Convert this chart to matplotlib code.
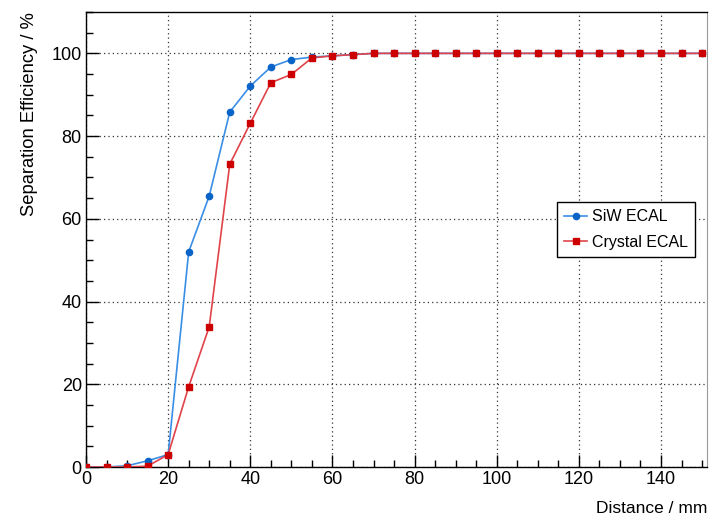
import numpy as np
import matplotlib.pyplot as plt
from matplotlib.ticker import MultipleLocator
from matplotlib.lines import Line2D

plt.rcParams['font.family'] = ['Liberation Sans', 'DejaVu Sans']

distance = list(range(0, 155, 5))
siw_eff = [0, 0, 0.3, 1.5, 3.0, 52.0, 65.5, 85.8, 92.1, 96.7, 98.5, 99.1, 99.4, 99.7] + [100.0] * 17
crystal_eff = [0, 0, 0, 0.2, 3.0, 19.4, 33.9, 73.2, 83.1, 92.9, 94.9, 98.9, 99.4, 99.7] + [100.0] * 17

fig = plt.figure(figsize=(7.10, 5.19), dpi=100)
ax = fig.add_axes([86 / 710, 52 / 519, 621 / 710, 455 / 519])

ax.plot(distance, siw_eff, '-', color='#3a8ee6', lw=1.2, zorder=3)
ax.plot(distance, siw_eff, 'o', color='#0a64c8', ms=4.5, zorder=4)
ax.plot(distance, crystal_eff, '-', color='#e0434a', lw=1.2, zorder=3)
ax.plot(distance, crystal_eff, 's', color='#cc0000', ms=5, zorder=4)

ax.set_xlim(0, 151.2)
ax.set_ylim(0, 110)
ax.xaxis.set_major_locator(MultipleLocator(20))
ax.xaxis.set_minor_locator(MultipleLocator(5))
ax.yaxis.set_major_locator(MultipleLocator(20))
ax.yaxis.set_minor_locator(MultipleLocator(5))
ax.tick_params(which='major', direction='in', length=9, width=1, labelsize=13, pad=3)
ax.tick_params(which='minor', direction='in', length=5, width=1)
ax.grid(True, which='major', color='#333333', ls=(0, (1, 2.5)), lw=0.9)

for s in ['left', 'bottom', 'top']:
    ax.spines[s].set_linewidth(1)
ax.spines['right'].set_color('#999999')

ax.set_xlabel('Distance / mm', fontsize=12.5, loc='right', labelpad=9)
ax.set_ylabel('Separation Efficiency / %', fontsize=13.2, loc='top', labelpad=10)

handles = [
    Line2D([], [], color='#3a8ee6', marker='o', mfc='#0a64c8', mec='#0a64c8', ms=4.5, lw=1.2),
    Line2D([], [], color='#e0434a', marker='s', mfc='#cc0000', mec='#cc0000', ms=5, lw=1.2),
]
leg = ax.legend(handles, ['SiW ECAL', 'Crystal ECAL'], loc='upper left',
                bbox_to_anchor=((557 - 86) / 621, (467 - 202) / 455),
                fontsize=11.5, frameon=True, fancybox=False, framealpha=1,
                edgecolor='black', borderpad=0.45, handlelength=1.45,
                handletextpad=0.3, borderaxespad=0, labelspacing=0.65)
leg.get_frame().set_linewidth(1)

fig.savefig('out.png', dpi=100)
